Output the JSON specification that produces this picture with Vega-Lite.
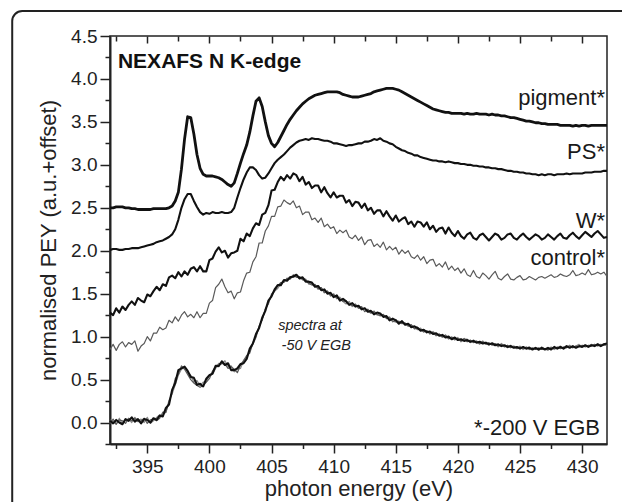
{
"$schema": "https://vega.github.io/schema/vega-lite/v6.json",
"width": 497, "height": 408,
"autosize": {"type": "none"},
"padding": {"left": 110, "top": 36, "right": 15, "bottom": 58},
"background": "white",
"config": {"view": {"stroke": "#222", "strokeWidth": 1.5}, "font": "Liberation Sans", "text": {"font": "Liberation Sans"}},
"datasets": {
"spectra": [
{"e":392,"pig":2.50,"ps":2.01,"w":1.28,"ctl":0.85,"a":0.02,"b":-0.01,"c":0.03},
{"e":392.25,"pig":2.50,"ps":2.02,"w":1.25,"ctl":0.91,"a":-0.01,"b":0.04,"c":0.01},
{"e":392.5,"pig":2.51,"ps":2.02,"w":1.33,"ctl":0.84,"a":0.03,"b":-0.02,"c":-0.02},
{"e":392.75,"pig":2.51,"ps":2.01,"w":1.28,"ctl":0.91,"a":0.00,"b":0.03,"c":0.05},
{"e":393,"pig":2.51,"ps":2.01,"w":1.35,"ctl":0.94,"a":-0.02,"b":0.02,"c":-0.02},
{"e":393.25,"pig":2.50,"ps":2.02,"w":1.31,"ctl":0.88,"a":0.04,"b":-0.01,"c":0.03},
{"e":393.5,"pig":2.50,"ps":2.02,"w":1.37,"ctl":0.93,"a":0.02,"b":0.05,"c":0.04},
{"e":393.75,"pig":2.49,"ps":2.03,"w":1.41,"ctl":0.91,"a":0.06,"b":0.02,"c":0.00},
{"e":394,"pig":2.49,"ps":2.03,"w":1.37,"ctl":0.95,"a":0.01,"b":0.05,"c":0.06},
{"e":394.25,"pig":2.48,"ps":2.03,"w":1.45,"ctl":0.83,"a":0.04,"b":0.01,"c":0.02},
{"e":394.5,"pig":2.48,"ps":2.04,"w":1.42,"ctl":0.89,"a":-0.01,"b":0.02,"c":0.04},
{"e":394.75,"pig":2.48,"ps":2.05,"w":1.40,"ctl":0.92,"a":0.04,"b":0.05,"c":0.00},
{"e":395,"pig":2.48,"ps":2.06,"w":1.49,"ctl":1.00,"a":0.03,"b":-0.01,"c":0.06},
{"e":395.25,"pig":2.48,"ps":2.07,"w":1.47,"ctl":0.95,"a":0.00,"b":0.03,"c":-0.01},
{"e":395.5,"pig":2.49,"ps":2.08,"w":1.53,"ctl":1.04,"a":0.05,"b":0.04,"c":0.02},
{"e":395.75,"pig":2.49,"ps":2.10,"w":1.58,"ctl":1.04,"a":0.03,"b":0.02,"c":0.06},
{"e":396,"pig":2.49,"ps":2.11,"w":1.54,"ctl":1.11,"a":0.08,"b":0.05,"c":0.09},
{"e":396.25,"pig":2.49,"ps":2.12,"w":1.61,"ctl":1.08,"a":0.07,"b":0.12,"c":0.09},
{"e":396.5,"pig":2.49,"ps":2.14,"w":1.59,"ctl":1.10,"a":0.17,"b":0.12,"c":0.12},
{"e":396.75,"pig":2.50,"ps":2.16,"w":1.69,"ctl":1.19,"a":0.21,"b":0.24,"c":0.26},
{"e":397,"pig":2.52,"ps":2.19,"w":1.71,"ctl":1.16,"a":0.38,"b":0.35,"c":0.33},
{"e":397.25,"pig":2.58,"ps":2.25,"w":1.68,"ctl":1.23,"a":0.46,"b":0.51,"c":0.44},
{"e":397.5,"pig":2.68,"ps":2.36,"w":1.75,"ctl":1.18,"a":0.61,"b":0.56,"c":0.55},
{"e":397.75,"pig":2.95,"ps":2.50,"w":1.70,"ctl":1.25,"a":0.63,"b":0.66,"c":0.62},
{"e":398,"pig":3.30,"ps":2.60,"w":1.76,"ctl":1.29,"a":0.65,"b":0.62,"c":0.64},
{"e":398.25,"pig":3.56,"ps":2.66,"w":1.72,"ctl":1.23,"a":0.60,"b":0.56,"c":0.59},
{"e":398.5,"pig":3.55,"ps":2.66,"w":1.79,"ctl":1.26,"a":0.53,"b":0.50,"c":0.55},
{"e":398.75,"pig":3.36,"ps":2.58,"w":1.81,"ctl":1.22,"a":0.52,"b":0.46,"c":0.47},
{"e":399,"pig":3.12,"ps":2.51,"w":1.76,"ctl":1.29,"a":0.44,"b":0.43,"c":0.49},
{"e":399.25,"pig":2.96,"ps":2.45,"w":1.82,"ctl":1.22,"a":0.45,"b":0.41,"c":0.43},
{"e":399.5,"pig":2.89,"ps":2.42,"w":1.76,"ctl":1.27,"a":0.42,"b":0.43,"c":0.47},
{"e":399.75,"pig":2.87,"ps":2.44,"w":1.76,"ctl":1.27,"a":0.51,"b":0.47,"c":0.47},
{"e":400,"pig":2.87,"ps":2.43,"w":1.89,"ctl":1.39,"a":0.55,"b":0.51,"c":0.55},
{"e":400.25,"pig":2.87,"ps":2.45,"w":1.91,"ctl":1.42,"a":0.57,"b":0.60,"c":0.56},
{"e":400.5,"pig":2.86,"ps":2.44,"w":1.99,"ctl":1.57,"a":0.66,"b":0.65,"c":0.63},
{"e":400.75,"pig":2.85,"ps":2.44,"w":2.04,"ctl":1.61,"a":0.66,"b":0.65,"c":0.69},
{"e":401,"pig":2.83,"ps":2.45,"w":1.98,"ctl":1.67,"a":0.71,"b":0.72,"c":0.68},
{"e":401.25,"pig":2.80,"ps":2.44,"w":2.00,"ctl":1.58,"a":0.67,"b":0.68,"c":0.72},
{"e":401.5,"pig":2.77,"ps":2.44,"w":1.92,"ctl":1.51,"a":0.69,"b":0.63,"c":0.65},
{"e":401.75,"pig":2.75,"ps":2.45,"w":1.97,"ctl":1.53,"a":0.61,"b":0.65,"c":0.66},
{"e":402,"pig":2.79,"ps":2.50,"w":1.98,"ctl":1.44,"a":0.61,"b":0.62,"c":0.59},
{"e":402.25,"pig":2.90,"ps":2.62,"w":2.00,"ctl":1.51,"a":0.63,"b":0.58,"c":0.62},
{"e":402.5,"pig":3.02,"ps":2.73,"w":2.14,"ctl":1.52,"a":0.68,"b":0.67,"c":0.63},
{"e":402.75,"pig":3.13,"ps":2.83,"w":2.11,"ctl":1.65,"a":0.69,"b":0.72,"c":0.72},
{"e":403,"pig":3.23,"ps":2.91,"w":2.20,"ctl":1.74,"a":0.74,"b":0.78,"c":0.76},
{"e":403.25,"pig":3.38,"ps":2.97,"w":2.17,"ctl":1.75,"a":0.86,"b":0.81,"c":0.83},
{"e":403.5,"pig":3.57,"ps":2.97,"w":2.26,"ctl":1.87,"a":0.92,"b":0.93,"c":0.91},
{"e":403.75,"pig":3.74,"ps":2.94,"w":2.32,"ctl":1.93,"a":1.03,"b":1.00,"c":0.99},
{"e":404,"pig":3.78,"ps":2.88,"w":2.30,"ctl":2.09,"a":1.10,"b":1.12,"c":1.12},
{"e":404.25,"pig":3.68,"ps":2.84,"w":2.42,"ctl":2.09,"a":1.22,"b":1.20,"c":1.19},
{"e":404.5,"pig":3.50,"ps":2.85,"w":2.44,"ctl":2.23,"a":1.30,"b":1.32,"c":1.32},
{"e":404.75,"pig":3.34,"ps":2.90,"w":2.53,"ctl":2.29,"a":1.42,"b":1.39,"c":1.38},
{"e":405,"pig":3.25,"ps":2.96,"w":2.70,"ctl":2.40,"a":1.47,"b":1.48,"c":1.50},
{"e":405.25,"pig":3.21,"ps":3.02,"w":2.71,"ctl":2.40,"a":1.55,"b":1.53,"c":1.53},
{"e":405.5,"pig":3.26,"ps":3.06,"w":2.80,"ctl":2.51,"a":1.60,"b":1.59,"c":1.56},
{"e":405.75,"pig":3.33,"ps":3.09,"w":2.86,"ctl":2.52,"a":1.60,"b":1.63,"c":1.62},
{"e":406,"pig":3.40,"ps":3.12,"w":2.82,"ctl":2.59,"a":1.66,"b":1.63,"c":1.65},
{"e":406.25,"pig":3.47,"ps":3.16,"w":2.88,"ctl":2.56,"a":1.65,"b":1.68,"c":1.67},
{"e":406.5,"pig":3.53,"ps":3.20,"w":2.84,"ctl":2.54,"a":1.69,"b":1.67,"c":1.70},
{"e":406.75,"pig":3.58,"ps":3.23,"w":2.90,"ctl":2.58,"a":1.70,"b":1.72,"c":1.69},
{"e":407,"pig":3.63,"ps":3.26,"w":2.88,"ctl":2.50,"a":1.72,"b":1.69,"c":1.71},
{"e":407.25,"pig":3.67,"ps":3.28,"w":2.81,"ctl":2.52,"a":1.68,"b":1.70,"c":1.67},
{"e":407.5,"pig":3.71,"ps":3.29,"w":2.86,"ctl":2.42,"a":1.69,"b":1.66,"c":1.68},
{"e":407.75,"pig":3.74,"ps":3.30,"w":2.77,"ctl":2.45,"a":1.64,"b":1.66,"c":1.67},
{"e":408,"pig":3.77,"ps":3.29,"w":2.80,"ctl":2.45,"a":1.64,"b":1.62,"c":1.61},
{"e":408.25,"pig":3.79,"ps":3.31,"w":2.73,"ctl":2.36,"a":1.63,"b":1.60,"c":1.62},
{"e":408.5,"pig":3.81,"ps":3.30,"w":2.76,"ctl":2.38,"a":1.58,"b":1.61,"c":1.60},
{"e":408.75,"pig":3.82,"ps":3.30,"w":2.76,"ctl":2.33,"a":1.59,"b":1.56,"c":1.55},
{"e":409,"pig":3.83,"ps":3.29,"w":2.68,"ctl":2.38,"a":1.54,"b":1.57,"c":1.57},
{"e":409.25,"pig":3.84,"ps":3.28,"w":2.74,"ctl":2.28,"a":1.55,"b":1.51,"c":1.52},
{"e":409.5,"pig":3.85,"ps":3.28,"w":2.67,"ctl":2.31,"a":1.50,"b":1.53,"c":1.53},
{"e":409.75,"pig":3.85,"ps":3.27,"w":2.62,"ctl":2.26,"a":1.51,"b":1.48,"c":1.47},
{"e":410,"pig":3.85,"ps":3.25,"w":2.68,"ctl":2.28,"a":1.46,"b":1.49,"c":1.50},
{"e":410.25,"pig":3.85,"ps":3.25,"w":2.62,"ctl":2.20,"a":1.48,"b":1.45,"c":1.44},
{"e":410.5,"pig":3.84,"ps":3.24,"w":2.64,"ctl":2.24,"a":1.42,"b":1.44,"c":1.46},
{"e":410.75,"pig":3.82,"ps":3.23,"w":2.64,"ctl":2.21,"a":1.44,"b":1.41,"c":1.41},
{"e":411,"pig":3.81,"ps":3.22,"w":2.56,"ctl":2.24,"a":1.41,"b":1.42,"c":1.38},
{"e":411.25,"pig":3.80,"ps":3.23,"w":2.59,"ctl":2.16,"a":1.37,"b":1.38,"c":1.41},
{"e":411.5,"pig":3.79,"ps":3.23,"w":2.52,"ctl":2.14,"a":1.39,"b":1.36,"c":1.35},
{"e":411.75,"pig":3.79,"ps":3.24,"w":2.57,"ctl":2.18,"a":1.35,"b":1.38,"c":1.37},
{"e":412,"pig":3.79,"ps":3.25,"w":2.56,"ctl":2.12,"a":1.36,"b":1.33,"c":1.35},
{"e":412.25,"pig":3.80,"ps":3.25,"w":2.50,"ctl":2.16,"a":1.32,"b":1.35,"c":1.31},
{"e":412.5,"pig":3.81,"ps":3.27,"w":2.55,"ctl":2.07,"a":1.33,"b":1.29,"c":1.33},
{"e":412.75,"pig":3.82,"ps":3.27,"w":2.47,"ctl":2.12,"a":1.29,"b":1.32,"c":1.30},
{"e":413,"pig":3.83,"ps":3.28,"w":2.50,"ctl":2.13,"a":1.30,"b":1.28,"c":1.27},
{"e":413.25,"pig":3.85,"ps":3.30,"w":2.43,"ctl":2.05,"a":1.26,"b":1.29,"c":1.30},
{"e":413.5,"pig":3.86,"ps":3.29,"w":2.47,"ctl":2.08,"a":1.28,"b":1.26,"c":1.25},
{"e":413.75,"pig":3.87,"ps":3.31,"w":2.47,"ctl":2.04,"a":1.27,"b":1.24,"c":1.26},
{"e":414,"pig":3.88,"ps":3.28,"w":2.40,"ctl":2.10,"a":1.23,"b":1.26,"c":1.25},
{"e":414.25,"pig":3.89,"ps":3.27,"w":2.46,"ctl":2.01,"a":1.24,"b":1.21,"c":1.22},
{"e":414.5,"pig":3.89,"ps":3.25,"w":2.40,"ctl":2.05,"a":1.19,"b":1.22,"c":1.23},
{"e":414.75,"pig":3.89,"ps":3.24,"w":2.35,"ctl":2.01,"a":1.21,"b":1.18,"c":1.17},
{"e":415,"pig":3.88,"ps":3.21,"w":2.41,"ctl":2.04,"a":1.19,"b":1.17,"c":1.20},
{"e":415.25,"pig":3.87,"ps":3.19,"w":2.34,"ctl":1.96,"a":1.15,"b":1.18,"c":1.16},
{"e":415.5,"pig":3.85,"ps":3.17,"w":2.37,"ctl":2.01,"a":1.18,"b":1.15,"c":1.17},
{"e":415.75,"pig":3.83,"ps":3.16,"w":2.39,"ctl":1.97,"a":1.14,"b":1.16,"c":1.13},
{"e":416,"pig":3.81,"ps":3.14,"w":2.31,"ctl":2.00,"a":1.15,"b":1.12,"c":1.14},
{"e":416.25,"pig":3.79,"ps":3.13,"w":2.34,"ctl":1.93,"a":1.11,"b":1.14,"c":1.13},
{"e":416.5,"pig":3.77,"ps":3.11,"w":2.28,"ctl":1.91,"a":1.12,"b":1.09,"c":1.10},
{"e":416.75,"pig":3.75,"ps":3.11,"w":2.34,"ctl":1.95,"a":1.10,"b":1.11,"c":1.08},
{"e":417,"pig":3.73,"ps":3.09,"w":2.33,"ctl":1.89,"a":1.07,"b":1.08,"c":1.10},
{"e":417.25,"pig":3.71,"ps":3.08,"w":2.28,"ctl":1.93,"a":1.08,"b":1.06,"c":1.05},
{"e":417.5,"pig":3.69,"ps":3.07,"w":2.33,"ctl":1.85,"a":1.05,"b":1.07,"c":1.07},
{"e":417.75,"pig":3.67,"ps":3.06,"w":2.25,"ctl":1.89,"a":1.06,"b":1.03,"c":1.04},
{"e":418,"pig":3.65,"ps":3.05,"w":2.29,"ctl":1.90,"a":1.03,"b":1.05,"c":1.06},
{"e":418.25,"pig":3.64,"ps":3.05,"w":2.22,"ctl":1.82,"a":1.04,"b":1.01,"c":1.02},
{"e":418.5,"pig":3.63,"ps":3.04,"w":2.26,"ctl":1.85,"a":1.01,"b":1.03,"c":1.03},
{"e":418.75,"pig":3.62,"ps":3.04,"w":2.27,"ctl":1.81,"a":1.02,"b":1.00,"c":0.99},
{"e":419,"pig":3.61,"ps":3.03,"w":2.20,"ctl":1.87,"a":0.99,"b":1.02,"c":1.01},
{"e":419.25,"pig":3.61,"ps":3.04,"w":2.27,"ctl":1.78,"a":1.00,"b":0.98,"c":0.97},
{"e":419.5,"pig":3.60,"ps":3.03,"w":2.21,"ctl":1.82,"a":0.97,"b":0.99,"c":1.00},
{"e":419.75,"pig":3.60,"ps":3.02,"w":2.17,"ctl":1.77,"a":0.99,"b":0.97,"c":0.96},
{"e":420,"pig":3.60,"ps":3.02,"w":2.23,"ctl":1.80,"a":0.96,"b":0.98,"c":0.99},
{"e":420.25,"pig":3.60,"ps":3.01,"w":2.17,"ctl":1.74,"a":0.97,"b":0.95,"c":0.94},
{"e":420.5,"pig":3.59,"ps":3.01,"w":2.14,"ctl":1.79,"a":0.95,"b":0.98,"c":0.97},
{"e":420.75,"pig":3.60,"ps":3.00,"w":2.19,"ctl":1.72,"a":0.96,"b":0.94,"c":0.97},
{"e":421,"pig":3.59,"ps":3.00,"w":2.21,"ctl":1.70,"a":0.94,"b":0.96,"c":0.93},
{"e":421.25,"pig":3.59,"ps":2.99,"w":2.15,"ctl":1.77,"a":0.95,"b":0.93,"c":0.96},
{"e":421.5,"pig":3.60,"ps":2.99,"w":2.13,"ctl":1.70,"a":0.93,"b":0.95,"c":0.94},
{"e":421.75,"pig":3.59,"ps":2.98,"w":2.18,"ctl":1.68,"a":0.94,"b":0.92,"c":0.91},
{"e":422,"pig":3.59,"ps":2.98,"w":2.20,"ctl":1.74,"a":0.92,"b":0.94,"c":0.95},
{"e":422.25,"pig":3.59,"ps":2.97,"w":2.16,"ctl":1.71,"a":0.93,"b":0.91,"c":0.92},
{"e":422.5,"pig":3.58,"ps":2.97,"w":2.12,"ctl":1.67,"a":0.91,"b":0.93,"c":0.90},
{"e":422.75,"pig":3.59,"ps":2.96,"w":2.16,"ctl":1.72,"a":0.92,"b":0.90,"c":0.93},
{"e":423,"pig":3.58,"ps":2.96,"w":2.20,"ctl":1.76,"a":0.90,"b":0.92,"c":0.91},
{"e":423.25,"pig":3.58,"ps":2.95,"w":2.18,"ctl":1.68,"a":0.91,"b":0.89,"c":0.88},
{"e":423.5,"pig":3.57,"ps":2.95,"w":2.13,"ctl":1.66,"a":0.89,"b":0.91,"c":0.92},
{"e":423.75,"pig":3.57,"ps":2.94,"w":2.15,"ctl":1.70,"a":0.90,"b":0.88,"c":0.89},
{"e":424,"pig":3.56,"ps":2.93,"w":2.19,"ctl":1.73,"a":0.88,"b":0.90,"c":0.87},
{"e":424.25,"pig":3.55,"ps":2.93,"w":2.20,"ctl":1.67,"a":0.89,"b":0.87,"c":0.90},
{"e":424.5,"pig":3.55,"ps":2.92,"w":2.15,"ctl":1.66,"a":0.87,"b":0.89,"c":0.88},
{"e":424.75,"pig":3.54,"ps":2.92,"w":2.13,"ctl":1.69,"a":0.88,"b":0.86,"c":0.86},
{"e":425,"pig":3.53,"ps":2.91,"w":2.17,"ctl":1.71,"a":0.86,"b":0.88,"c":0.89},
{"e":425.25,"pig":3.52,"ps":2.91,"w":2.20,"ctl":1.66,"a":0.88,"b":0.86,"c":0.85},
{"e":425.5,"pig":3.51,"ps":2.90,"w":2.16,"ctl":1.67,"a":0.86,"b":0.88,"c":0.87},
{"e":425.75,"pig":3.51,"ps":2.90,"w":2.13,"ctl":1.70,"a":0.87,"b":0.85,"c":0.88},
{"e":426,"pig":3.50,"ps":2.89,"w":2.16,"ctl":1.68,"a":0.85,"b":0.87,"c":0.85},
{"e":426.25,"pig":3.49,"ps":2.89,"w":2.19,"ctl":1.66,"a":0.87,"b":0.85,"c":0.87},
{"e":426.5,"pig":3.49,"ps":2.88,"w":2.17,"ctl":1.69,"a":0.85,"b":0.87,"c":0.84},
{"e":426.75,"pig":3.48,"ps":2.89,"w":2.13,"ctl":1.70,"a":0.87,"b":0.85,"c":0.88},
{"e":427,"pig":3.48,"ps":2.88,"w":2.15,"ctl":1.68,"a":0.85,"b":0.86,"c":0.86},
{"e":427.25,"pig":3.47,"ps":2.89,"w":2.19,"ctl":1.70,"a":0.87,"b":0.85,"c":0.84},
{"e":427.5,"pig":3.47,"ps":2.89,"w":2.16,"ctl":1.72,"a":0.85,"b":0.87,"c":0.88},
{"e":427.75,"pig":3.47,"ps":2.88,"w":2.13,"ctl":1.69,"a":0.88,"b":0.86,"c":0.85},
{"e":428,"pig":3.47,"ps":2.89,"w":2.17,"ctl":1.70,"a":0.86,"b":0.88,"c":0.87},
{"e":428.25,"pig":3.46,"ps":2.89,"w":2.20,"ctl":1.73,"a":0.88,"b":0.86,"c":0.89},
{"e":428.5,"pig":3.46,"ps":2.89,"w":2.15,"ctl":1.71,"a":0.86,"b":0.88,"c":0.86},
{"e":428.75,"pig":3.46,"ps":2.90,"w":2.14,"ctl":1.70,"a":0.89,"b":0.87,"c":0.88},
{"e":429,"pig":3.46,"ps":2.89,"w":2.18,"ctl":1.72,"a":0.87,"b":0.89,"c":0.90},
{"e":429.25,"pig":3.45,"ps":2.90,"w":2.21,"ctl":1.77,"a":0.89,"b":0.87,"c":0.87},
{"e":429.5,"pig":3.46,"ps":2.90,"w":2.17,"ctl":1.71,"a":0.87,"b":0.89,"c":0.89},
{"e":429.75,"pig":3.45,"ps":2.90,"w":2.14,"ctl":1.72,"a":0.89,"b":0.88,"c":0.91},
{"e":430,"pig":3.46,"ps":2.90,"w":2.18,"ctl":1.74,"a":0.88,"b":0.90,"c":0.88},
{"e":430.25,"pig":3.46,"ps":2.91,"w":2.22,"ctl":1.72,"a":0.90,"b":0.88,"c":0.90},
{"e":430.5,"pig":3.45,"ps":2.91,"w":2.19,"ctl":1.78,"a":0.88,"b":0.90,"c":0.89},
{"e":430.75,"pig":3.46,"ps":2.91,"w":2.16,"ctl":1.72,"a":0.90,"b":0.89,"c":0.91},
{"e":431,"pig":3.46,"ps":2.92,"w":2.20,"ctl":1.73,"a":0.89,"b":0.91,"c":0.89},
{"e":431.25,"pig":3.46,"ps":2.92,"w":2.23,"ctl":1.75,"a":0.91,"b":0.89,"c":0.92},
{"e":431.5,"pig":3.46,"ps":2.92,"w":2.19,"ctl":1.73,"a":0.89,"b":0.91,"c":0.90},
{"e":431.75,"pig":3.46,"ps":2.93,"w":2.15,"ctl":1.75,"a":0.91,"b":0.90,"c":0.92},
{"e":432,"pig":3.46,"ps":2.93,"w":2.16,"ctl":1.70,"a":0.92,"b":0.90,"c":0.91}
],
"frame": [{"e": 384.13, "e2": 445, "val": -1.5, "val2": 4.79}],
"labels": [
{"e": 431.84, "val": 3.70, "t": "pigment*"},
{"e": 431.84, "val": 3.065, "t": "PS*"},
{"e": 431.84, "val": 2.26, "t": "W*"},
{"e": 431.84, "val": 1.83, "t": "control*"},
{"e": 431.44, "val": -0.145, "t": "*-200 V EGB"}
],
"notes": [
{"e": 408.1, "val": 1.077, "t": "spectra at"},
{"e": 408.6, "val": 0.845, "t": "-50 V EGB"}
],
"heading": [{"e": 392.64, "val": 4.124, "t": "NEXAFS N K-edge"}]
},
"layer": [
{
"data": {"name": "spectra"},
"transform": [{"fold": ["c", "b", "ctl"], "as": ["series", "val"]}],
"mark": {"type": "line", "interpolate": "linear", "strokeJoin": "round", "strokeWidth": 1.2},
"encoding": {
"x": {"field": "e", "type": "quantitative", "scale": {"domain": [392, 432], "nice": false, "zero": false},
"axis": {"orient": "bottom", "values": [392.5, 395, 397.5, 400, 402.5, 405, 407.5, 410, 412.5, 415, 417.5, 420, 422.5, 425, 427.5, 430],
"labelExpr": "datum.value % 5 === 0 ? format(datum.value, 'd') : ''",
"tickSize": {"condition": {"test": "datum.value % 5 === 0", "value": 9}, "value": 4.5},
"title": "photon energy (eV)", "grid": false, "labelFontSize": 19, "titleFontSize": 22, "titleFontWeight": "normal",
"labelFont": "Liberation Sans", "titleFont": "Liberation Sans", "labelColor": "#222", "titleColor": "#222",
"labelPadding": 4, "titlePadding": 2, "domainWidth": 2, "domainColor": "#222", "tickWidth": 1.5, "tickColor": "#222",
"labelOverlap": false, "labelFlush": false}},
"y": {"field": "val", "type": "quantitative", "scale": {"domain": [-0.25, 4.5], "nice": false, "zero": false},
"axis": {"orient": "left", "values": [0, 0.5, 1, 1.5, 2, 2.5, 3, 3.5, 4, 4.5],
"format": ".1f", "tickSize": 10,
"title": "normalised PEY (a.u.+offset)", "grid": false, "labelFontSize": 19, "titleFontSize": 22, "titleFontWeight": "normal",
"labelFont": "Liberation Sans", "titleFont": "Liberation Sans", "labelColor": "#222", "titleColor": "#222",
"labelPadding": 3, "titlePadding": 10, "domainWidth": 2, "domainColor": "#222", "tickWidth": 1.5, "tickColor": "#222",
"labelOverlap": false, "labelFlush": false}},
"detail": {"field": "series", "type": "nominal"},
"color": {"field": "series", "type": "nominal", "legend": null,
"scale": {"domain": ["c", "b", "ctl"], "range": ["#8a8a8a", "#5a5a5a", "#5a5a5a"]}}
}
},
{
"data": {"name": "spectra"},
"transform": [{"fold": ["a", "w", "ps"], "as": ["series", "val"]}],
"mark": {"type": "line", "interpolate": "linear", "strokeJoin": "round", "strokeWidth": 2.1, "color": "#111"},
"encoding": {
"x": {"field": "e", "type": "quantitative", "scale": {"domain": [392, 432], "nice": false, "zero": false}, "axis": null},
"y": {"field": "val", "type": "quantitative", "scale": {"domain": [-0.25, 4.5], "nice": false, "zero": false}, "axis": null},
"detail": {"field": "series", "type": "nominal"}
}
},
{
"data": {"name": "spectra"},
"mark": {"type": "line", "interpolate": "linear", "strokeJoin": "round", "strokeWidth": 2.8, "color": "#111"},
"encoding": {
"x": {"field": "e", "type": "quantitative", "scale": {"domain": [392, 432], "nice": false, "zero": false}, "axis": null},
"y": {"field": "pig", "type": "quantitative", "scale": {"domain": [-0.25, 4.5], "nice": false, "zero": false}, "axis": null}
}
},
{
"data": {"name": "frame"},
"mark": {"type": "rect", "fill": "white", "fillOpacity": 0, "stroke": "#222", "strokeWidth": 2, "cornerRadius": 10, "clip": false},
"encoding": {
"x": {"field": "e", "type": "quantitative", "scale": {"domain": [392, 432], "nice": false, "zero": false}, "axis": null},
"x2": {"field": "e2"},
"y": {"field": "val", "type": "quantitative", "scale": {"domain": [-0.25, 4.5], "nice": false, "zero": false}, "axis": null},
"y2": {"field": "val2"}
}
},
{
"data": {"name": "labels"},
"mark": {"type": "text", "align": "right", "baseline": "alphabetic", "fontSize": 22, "font": "Liberation Sans", "color": "#1a1a1a"},
"encoding": {
"x": {"field": "e", "type": "quantitative", "scale": {"domain": [392, 432], "nice": false, "zero": false}, "axis": null},
"y": {"field": "val", "type": "quantitative", "scale": {"domain": [-0.25, 4.5], "nice": false, "zero": false}, "axis": null},
"text": {"field": "t"}
}
},
{
"data": {"name": "notes"},
"mark": {"type": "text", "align": "center", "baseline": "alphabetic", "fontSize": 14.5, "fontStyle": "italic", "font": "Liberation Sans", "color": "#222"},
"encoding": {
"x": {"field": "e", "type": "quantitative", "scale": {"domain": [392, 432], "nice": false, "zero": false}, "axis": null},
"y": {"field": "val", "type": "quantitative", "scale": {"domain": [-0.25, 4.5], "nice": false, "zero": false}, "axis": null},
"text": {"field": "t"}
}
},
{
"data": {"name": "heading"},
"mark": {"type": "text", "align": "left", "baseline": "alphabetic", "fontSize": 21, "fontWeight": "bold", "font": "Liberation Sans", "color": "#111"},
"encoding": {
"x": {"field": "e", "type": "quantitative", "scale": {"domain": [392, 432], "nice": false, "zero": false},
"axis": {"orient": "top", "values": [392.5, 395, 397.5, 400, 402.5, 405, 407.5, 410, 412.5, 415, 417.5, 420, 422.5, 425, 427.5, 430],
"labels": false, "domain": false, "title": null, "grid": false, "tickWidth": 1.5, "tickColor": "#222",
"tickSize": {"condition": {"test": "datum.value % 5 === 0", "value": -7}, "value": -5}}},
"y": {"field": "val", "type": "quantitative", "scale": {"domain": [-0.25, 4.5], "nice": false, "zero": false},
"axis": {"orient": "left", "values": [-0.25, 0.25, 0.75, 1.25, 1.75, 2.25, 2.75, 3.25, 3.75, 4.25],
"labels": false, "domain": false, "title": null, "grid": false, "tickWidth": 1.5, "tickColor": "#222", "tickSize": 5}},
"text": {"field": "t"}
}
}
],
"resolve": {"axis": {"x": "independent", "y": "independent"}}
}
